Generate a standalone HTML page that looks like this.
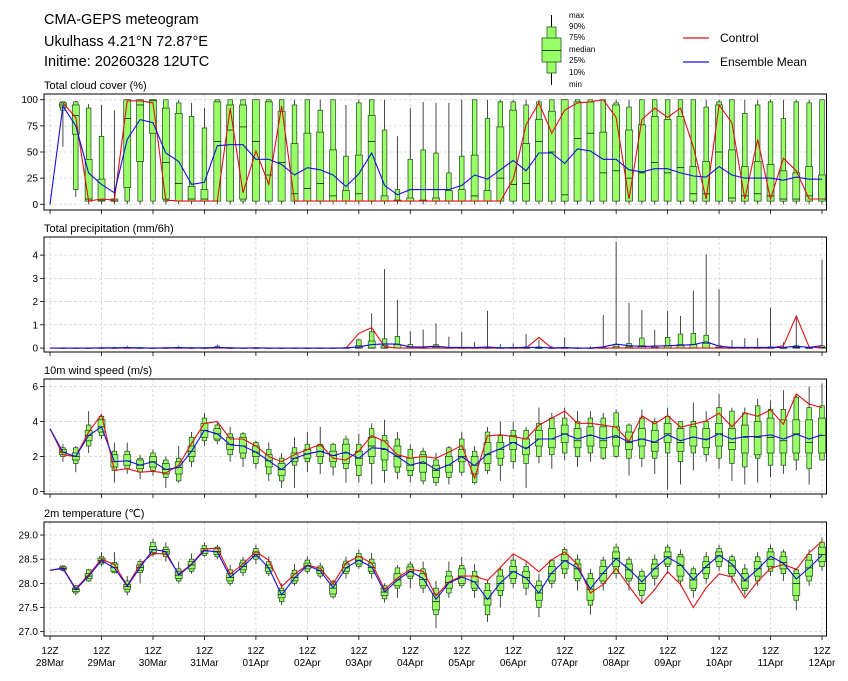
<!DOCTYPE html>
<html><head><meta charset="utf-8"><style>
html,body{margin:0;padding:0;background:#fff;}
svg{display:block;font-family:"Liberation Sans","DejaVu Sans",sans-serif;}
</style></head><body>
<svg id="chart" width="848" height="681" viewBox="0 0 848 681" xmlns="http://www.w3.org/2000/svg">
<g>
<text x="44" y="24" font-size="14.5">CMA-GEPS meteogram</text>
<text x="44" y="46" font-size="14.5">Ukulhass 4.21°N 72.87°E</text>
<text x="44" y="66" font-size="14.5">Initime: 20260328 12UTC</text>
</g>
<g>
<line x1="551.5" y1="15" x2="551.5" y2="85" stroke="#000" stroke-width="1"/>
<rect x="547" y="27" width="9" height="46" fill="#99ff66" stroke="#225522" stroke-width="0.8"/>
<rect x="542" y="38" width="19" height="24" fill="#99ff66" stroke="#225522" stroke-width="0.8"/>
<line x1="542" y1="50.5" x2="561" y2="50.5" stroke="#000" stroke-width="0.8"/>
<g font-size="8" fill="#000">
<text x="569" y="18">max</text><text x="569" y="29">90%</text><text x="569" y="40">75%</text><text x="569" y="52">median</text><text x="569" y="63">25%</text><text x="569" y="75">10%</text><text x="569" y="87">min</text>
</g>
</g>
<g>
<line x1="683" y1="38" x2="709" y2="38" stroke="#dd1111" stroke-width="1.2"/>
<text x="720" y="42" font-size="12">Control</text>
<line x1="683" y1="62" x2="709" y2="62" stroke="#1111dd" stroke-width="1.2"/>
<text x="720" y="66" font-size="12">Ensemble Mean</text>
</g>
<g id="panels"></g>
</svg>
<script>
const days = ["28Mar","29Mar","30Mar","31Mar","01Apr","02Apr","03Apr","04Apr","05Apr","06Apr","07Apr","08Apr","09Apr","10Apr","11Apr","12Apr"];
const cloudControl = [null,97,83,3,5,4,99,99,97,4,3,3,3,3,92,11,51,19,94,3,3,3,3,3,3,3,3,3,3,3,3,3,3,3,3,3,24,76,97,68,90,97,98,100,83,5,81,92,83,92,55,5,95,78,5,62,5,44,32,5,5];
const cloudMean = [0,94,75,30,19,11,62,81,78,49,41,19,21,56,57,57,43,43,38,28,35,33,28,17,29,49,18,9,14,14,14,14,18,28,24,33,42,32,49,49,39,53,51,43,43,33,31,34,34,30,27,26,36,28,25,25,25,23,26,24,24];
const cloudMin = [0,55,7,0,0,0,0,0,0,0,0,0,0,0,0,0,0,0,0,0,0,0,0,0,0,0,0,0,0,0,0,0,0,0,0,0,0,0,0,0,0,0,0,0,0,0,0,0,0,0,0,0,0,0,0,0,0,0,0,0,0];
const cloudP10 = [0,90,14,3,3,3,3,3,3,3,3,3,3,3,3,3,3,3,3,3,3,3,3,3,3,3,3,3,3,3,3,3,3,3,3,3,3,3,3,3,3,3,3,3,3,3,3,3,3,3,3,3,3,3,3,3,3,3,3,3,3];
const cloudQ25 = [0,93,67,3,3,3,16,41,68,5,3,3,3,3,3,5,3,3,3,3,3,3,3,3,3,3,3,3,3,3,3,3,3,3,3,3,3,3,3,3,3,3,3,3,3,3,3,3,3,3,3,3,3,3,3,3,3,3,3,3,3];
const cloudMed = [0,95,85,5,4,3,82,95,99,40,20,5,5,60,71,74,60,28,40,10,15,20,8,3,10,60,3,3,3,3,3,3,3,8,3,25,19,20,60,50,9,63,68,30,32,25,30,40,30,35,10,10,50,6,8,10,8,5,5,8,5];
const cloudQ75 = [0,97,95,43,24,5,100,100,100,92,87,17,14,98,95,95,100,98,89,58,68,69,52,13,47,85,8,4,6,4,6,13,14,47,13,74,90,58,81,89,100,98,98,69,95,71,76,84,81,84,36,41,95,52,36,41,38,32,30,36,28];
const cloudP90 = [0,98,98,92,65,5,100,100,100,100,97,84,73,100,100,100,100,100,100,95,100,90,100,46,97,100,71,14,43,52,49,30,46,100,82,98,98,95,98,100,100,100,100,100,97,93,100,100,100,100,100,93,98,100,87,95,98,82,98,97,100];
const cloudMax = [0,98,99,96,95,90,100,100,100,100,100,97,92,100,100,100,100,100,100,100,100,100,100,95,100,100,100,65,92,98,97,97,100,100,100,100,100,100,100,100,100,100,100,100,100,100,100,100,100,100,100,100,100,100,100,100,100,100,100,100,100];
const precipControl = [0,0,0,0,0,0,0,0,0,0,0,0,0,0,0,0,0,0,0,0,0,0,0,0,0.63,0.88,0.06,0,0,0,0,0,0,0,0,0,0,0,0.46,0,0,0,0,0,0,0,0,0,0,0,0,0,0,0,0,0,0,0.1,1.38,0.05,0];
const precipMean = [0,0,0,0,0.01,0.01,0.02,0.01,0,0.01,0.02,0.01,0.01,0.03,0.01,0,0.01,0,0,0,0,0,0,0.01,0.05,0.15,0.18,0.17,0.05,0.05,0.08,0.03,0.03,0.02,0.04,0.01,0.02,0.03,0.03,0.01,0.02,0,0,0.05,0.17,0.1,0.07,0.08,0.1,0.12,0.15,0.27,0.08,0.03,0.03,0.03,0.03,0.03,0.08,0.03,0.1];
const precipQ75 = [0,0,0,0,0,0,0,0,0,0,0,0,0,0.02,0,0,0,0,0,0,0,0,0,0,0.1,0.3,0.1,0.15,0.05,0,0.05,0,0,0,0,0,0,0,0,0,0,0,0,0,0.05,0.05,0.1,0.03,0.1,0.15,0.15,0.2,0.03,0,0,0,0,0,0.03,0,0.03];
const precipP90 = [0,0,0,0,0,0,0.02,0,0,0,0.02,0,0,0.08,0,0,0,0,0,0,0,0,0,0.02,0.35,0.7,0.4,0.5,0.15,0.05,0.15,0.03,0.03,0.02,0.05,0.02,0.03,0.05,0.05,0,0.03,0,0,0.05,0.15,0.2,0.43,0.1,0.46,0.6,0.63,0.55,0.1,0.03,0.03,0.03,0.05,0.03,0.1,0.03,0.1];
const precipMax = [0,0.02,0.03,0.02,0.06,0.05,0.1,0.05,0.03,0.05,0.1,0.04,0.05,0.15,0.05,0.02,0.05,0.02,0.02,0.02,0.03,0.02,0.02,0.05,0.4,1.5,3.4,2.07,0.73,0.8,1.06,0.49,0.7,0.27,1.6,0.17,0.2,0.6,0.35,0.1,0.46,0.05,0.08,1.42,4.58,1.95,1.64,0.78,1.6,1.38,2.47,4.04,2.53,0.35,0.42,0.42,1.74,0.25,1.3,0.1,3.8];
const windControl = [3.6,2.1,2.0,3.4,4.4,1.2,1.3,1.1,1.15,1.05,1.5,2.75,3.9,4.0,3.0,3.0,2.6,2.0,1.7,2.1,2.4,2.7,1.9,1.8,2.3,3.2,2.86,2.1,1.9,2.0,1.9,2.25,2.63,0.76,3.18,3.24,3.14,3.0,3.8,4.2,4.6,3.9,3.9,3.8,3.68,2.86,4.34,3.87,4.34,3.68,3.85,4.04,4.48,3.7,4.5,4.3,4.67,3.85,5.58,5.0,4.8];
const windMean = [3.6,2.25,2.0,3.2,3.7,1.7,1.75,1.5,1.7,1.25,1.37,2.3,3.5,3.3,2.67,2.6,2.25,1.75,1.25,1.9,2.15,2.3,2.05,2.25,1.9,2.5,2.45,2.0,1.5,1.7,1.24,1.52,2.0,1.47,2.15,2.44,2.82,2.44,3.0,3.0,3.3,3.0,3.24,3.0,3.2,2.82,3.0,2.82,3.24,2.9,3.12,2.95,3.3,3.0,3.14,3.14,3.24,3.0,3.28,3.0,3.24];
const windMin = [3.6,1.7,1.1,2.2,3.0,0.5,1.0,0.7,0.9,0.2,0.5,1.4,2.6,2.7,1.7,1.4,1.3,0.6,0.2,0.2,1.1,1.0,0.9,0.5,0.5,0.4,0.5,0.7,0.5,0.4,0.3,0.4,0.9,0.4,1.0,0.6,1.3,0.2,1.6,1.3,1.8,1.4,1.7,1.8,1.9,0.9,1.4,1.0,0.1,0.4,1.2,1.7,1.3,0.6,0.4,0.5,0.8,1.0,1.2,0.4,1.8];
const windP10 = [3.6,2.0,1.6,2.6,3.2,1.2,1.3,1.1,1.2,0.8,0.6,1.7,2.9,2.9,2.1,1.9,1.6,1.0,0.6,1.5,1.7,1.6,1.4,1.3,0.9,1.6,1.2,1.1,0.9,0.6,0.5,0.8,1.1,0.5,1.2,1.5,1.7,1.6,2.0,2.1,2.2,2.0,2.2,1.9,2.0,1.9,1.9,1.9,2.2,1.7,2.2,2.1,1.9,1.6,1.4,1.9,1.5,1.5,1.8,1.3,1.8];
const windQ25 = [3.6,2.1,1.8,2.9,3.4,1.4,1.5,1.3,1.4,1.0,1.0,2.0,3.1,3.0,2.4,2.2,2.0,1.4,0.9,1.7,1.9,2.0,1.7,1.6,1.5,2.0,1.8,1.4,1.2,1.1,0.8,1.1,1.7,1.0,1.6,1.9,2.4,2.1,2.6,2.5,2.8,2.5,2.6,2.5,2.6,2.4,2.6,2.3,2.8,2.3,2.6,2.5,2.6,2.4,2.2,2.1,2.2,2.2,2.2,2.2,2.2];
const windMed = [3.6,2.25,2.0,3.2,3.7,1.7,1.75,1.5,1.7,1.25,1.37,2.3,3.5,3.3,2.7,2.6,2.25,1.75,1.25,1.9,2.15,2.3,2.05,2.2,1.9,2.6,2.4,2.0,1.5,1.6,1.2,1.5,2.0,1.5,2.1,2.4,2.8,2.5,3.0,3.0,3.3,2.9,3.2,2.9,3.1,2.8,3.0,2.8,3.3,2.8,3.1,3.0,3.3,2.8,3.1,3.1,3.1,2.9,3.3,2.8,3.2];
const windQ75 = [3.6,2.4,2.2,3.5,4.1,2.1,2.1,1.8,2.0,1.6,1.7,2.6,3.9,3.6,3.1,3.1,2.6,2.1,1.6,2.2,2.4,2.6,2.3,2.7,2.3,3.1,2.9,2.6,1.9,2.1,1.5,2.0,2.4,2.0,2.8,2.8,3.2,3.0,3.5,3.6,3.8,3.6,3.7,3.7,3.7,3.4,3.6,3.5,3.9,3.6,3.7,3.6,3.9,3.6,3.8,4.0,4.2,4.1,4.1,4.1,4.2];
const windP90 = [3.6,2.5,2.5,3.8,4.3,2.3,2.3,1.9,2.2,1.8,1.9,3.1,4.2,3.8,3.3,3.3,2.8,2.4,1.9,2.5,2.7,2.7,2.7,3.0,2.7,3.6,3.2,3.0,2.4,2.3,1.8,2.5,3.0,2.3,3.4,3.2,3.5,3.5,3.9,4.2,4.2,4.0,4.2,4.2,4.5,3.8,4.2,4.0,4.3,4.0,4.0,4.0,4.8,4.6,4.5,4.9,4.7,4.7,5.4,4.8,4.9];
const windMax = [3.6,2.7,2.6,4.6,4.4,2.8,2.8,2.1,2.4,2.0,2.6,3.4,4.5,4.0,3.7,3.4,2.9,2.8,2.2,3.1,3.4,3.7,2.8,3.2,3.3,3.9,4.1,3.4,2.7,2.5,2.2,2.6,3.4,2.6,3.7,4.0,4.0,3.7,4.8,4.5,4.8,4.6,4.6,4.5,4.7,3.9,4.7,4.2,4.8,4.0,5.1,4.6,5.6,4.8,4.8,5.3,5.2,5.8,5.6,6.0,6.2];
const tempControl = [28.27,28.32,27.89,28.18,28.5,28.39,27.95,28.39,28.62,28.61,28.19,28.4,28.71,28.73,28.19,28.4,28.66,28.48,27.93,28.19,28.38,28.31,27.99,28.42,28.56,28.42,27.87,28.11,28.29,28.25,27.74,28.03,28.15,28.15,28.06,28.33,28.61,28.46,28.24,28.49,28.65,28.39,27.8,27.98,28.31,27.94,27.58,27.87,28.24,27.98,27.5,27.91,28.2,28.13,27.7,28.04,28.31,28.39,28.29,28.63,28.87];
const tempMean = [28.27,28.31,27.87,28.15,28.47,28.32,27.94,28.33,28.7,28.66,28.17,28.39,28.68,28.65,28.13,28.35,28.6,28.32,27.76,28.11,28.37,28.26,27.91,28.32,28.48,28.34,27.82,28.07,28.25,28.1,27.67,28.01,28.13,28.03,27.67,28.01,28.25,28.11,27.8,28.22,28.47,28.32,27.89,28.22,28.51,28.29,28.03,28.31,28.54,28.39,28.08,28.35,28.58,28.4,28.06,28.29,28.56,28.42,28.09,28.32,28.58];
const tempMin = [28.27,28.24,27.75,28.03,28.35,28.2,27.75,28.0,28.55,28.45,28.0,28.2,28.55,28.5,27.95,28.15,28.4,28.15,27.55,27.95,28.2,28.1,27.68,28.1,28.3,28.1,27.6,27.7,27.9,27.8,27.07,27.7,27.9,27.7,27.2,27.5,27.9,27.75,27.3,27.9,28.1,27.85,27.35,27.85,28.1,27.85,27.6,27.95,28.2,27.95,27.7,28.0,28.25,28.0,27.75,27.95,28.15,28.05,27.45,27.95,28.25];
const tempP10 = [28.27,28.27,27.8,28.05,28.4,28.22,27.82,28.22,28.6,28.55,28.05,28.25,28.58,28.55,28.0,28.22,28.5,28.2,27.62,28.0,28.25,28.15,27.72,28.2,28.35,28.2,27.68,27.9,28.1,27.9,27.35,27.8,27.95,27.85,27.35,27.75,28.0,27.9,27.5,28.0,28.2,28.05,27.55,28.0,28.2,28.05,27.75,28.1,28.35,28.05,27.85,28.1,28.35,28.15,27.85,28.05,28.25,28.2,27.65,28.05,28.35];
const tempQ25 = [28.27,28.29,27.83,28.1,28.43,28.25,27.88,28.27,28.64,28.6,28.1,28.3,28.62,28.6,28.05,28.28,28.55,28.25,27.7,28.05,28.3,28.2,27.78,28.25,28.4,28.25,27.75,27.95,28.15,27.95,27.45,27.9,28.0,27.9,27.55,27.85,28.1,28.0,27.65,28.05,28.3,28.1,27.65,28.05,28.35,28.1,27.85,28.15,28.4,28.15,27.9,28.2,28.45,28.2,27.9,28.15,28.35,28.3,27.75,28.15,28.45];
const tempMed = [28.27,28.31,27.87,28.15,28.47,28.33,27.93,28.33,28.7,28.65,28.17,28.38,28.67,28.66,28.12,28.35,28.6,28.32,27.77,28.12,28.36,28.26,27.9,28.32,28.48,28.33,27.82,28.07,28.25,28.08,27.62,28.02,28.15,28.03,27.68,28.0,28.24,28.12,27.8,28.2,28.47,28.3,27.88,28.2,28.52,28.28,28.0,28.3,28.55,28.37,28.07,28.33,28.57,28.36,28.05,28.3,28.5,28.43,28.0,28.32,28.6];
const tempQ75 = [28.27,28.34,27.9,28.2,28.52,28.4,27.98,28.38,28.76,28.7,28.25,28.45,28.72,28.72,28.2,28.42,28.65,28.38,27.85,28.2,28.42,28.32,27.98,28.4,28.55,28.42,27.9,28.2,28.34,28.2,27.78,28.15,28.3,28.15,27.85,28.15,28.35,28.25,27.95,28.35,28.6,28.4,28.1,28.35,28.65,28.4,28.15,28.4,28.65,28.55,28.2,28.45,28.65,28.48,28.2,28.45,28.65,28.55,28.2,28.48,28.75];
const tempP90 = [28.27,28.36,27.95,28.28,28.55,28.43,28.05,28.45,28.85,28.75,28.3,28.5,28.78,28.75,28.28,28.48,28.72,28.45,27.9,28.27,28.48,28.36,28.04,28.46,28.62,28.5,27.95,28.32,28.4,28.3,27.9,28.25,28.37,28.25,28.0,28.28,28.48,28.35,28.05,28.48,28.7,28.5,28.2,28.48,28.75,28.5,28.25,28.5,28.75,28.6,28.3,28.55,28.72,28.55,28.3,28.55,28.72,28.65,28.28,28.6,28.85];
const tempMax = [28.27,28.37,27.97,28.3,28.65,28.65,28.15,28.5,28.92,28.85,28.45,28.62,28.85,28.8,28.38,28.55,28.8,28.55,28.0,28.4,28.56,28.43,28.08,28.55,28.7,28.63,28.0,28.38,28.46,28.45,28.05,28.45,28.55,28.4,28.08,28.35,28.6,28.45,28.2,28.5,28.75,28.6,28.3,28.55,28.82,28.55,28.3,28.6,28.8,28.7,28.35,28.65,28.8,28.6,28.4,28.65,28.8,28.7,28.3,28.7,28.95];

const NS='http://www.w3.org/2000/svg';
const X0=44, X1=826.5, I0=-0.47, I1=60.35;
function xs(i){return X0+(i-I0)/(I1-I0)*(X1-X0);}
function mk(tag,attrs,parent){const e=document.createElementNS(NS,tag);for(const k in attrs)e.setAttribute(k,attrs[k]);parent.appendChild(e);return e;}
const root=document.getElementById('panels');

const panels=[
 {key:'cloud',title:'Total cloud cover (%)',top:94,bot:210,ymin:-5.5,ymax:105.5,ticks:[0,25,50,75,100],fmt:v=>String(v),
  ctrl:cloudControl,mean:cloudMean,mn:cloudMin,p10:cloudP10,q25:cloudQ25,med:cloudMed,q75:cloudQ75,p90:cloudP90,mx:cloudMax},
 {key:'precip',title:'Total precipitation (mm/6h)',top:237,bot:352,ymin:-0.17,ymax:4.78,ticks:[0,1,2,3,4],fmt:v=>String(v),
  ctrl:precipControl,mean:precipMean,mn:null,p10:null,q25:null,med:null,q75:precipQ75,p90:precipP90,mx:precipMax},
 {key:'wind',title:'10m wind speed (m/s)',top:379,bot:494,ymin:-0.15,ymax:6.44,ticks:[0,2,4,6],fmt:v=>String(v),
  ctrl:windControl,mean:windMean,mn:windMin,p10:windP10,q25:windQ25,med:windMed,q75:windQ75,p90:windP90,mx:windMax},
 {key:'temp',title:'2m temperature (℃)',top:522,bot:636,ymin:26.91,ymax:29.27,ticks:[27.0,27.5,28.0,28.5,29.0],fmt:v=>v.toFixed(1),
  ctrl:tempControl,mean:tempMean,mn:tempMin,p10:tempP10,q25:tempQ25,med:tempMed,q75:tempQ75,p90:tempP90,mx:tempMax}
];

panels.forEach((p,pi)=>{
 const g=mk('g',{},root);
 
 
 const ys=v=>p.bot-(v-p.ymin)/(p.ymax-p.ymin)*(p.bot-p.top);
 const t=mk('text',{x:X0,y:p.top-5,'font-size':11},g);
 t.textContent=p.title;
 
 
 const grid=mk('g',{stroke:'#d4d4d4','stroke-width':0.8,'stroke-dasharray':'3,2'},g);
 
 
 p.ticks.forEach(v=>mk('line',{x1:X0,x2:X1,y1:ys(v),y2:ys(v)},grid));
 for(let d=0;d<days.length;d++){const x=xs(d*4);mk('line',{x1:x,x2:x,y1:p.top,y2:p.bot},grid);}
 const bg=mk('g',{},g);
 
 
 const n=p.mx.length;
 for(let i=0;i<n;i++){
  const x=xs(i);
  const mn=p.mn?p.mn[i]:0, p10=p.p10?p.p10[i]:0, q25=p.q25?p.q25[i]:0, med=p.med?p.med[i]:0;
  const q75=p.q75[i], p90=p.p90[i], mx=p.mx[i];
  if(mx===mn)continue;
  const b=mk('g',{},bg);
  
  
  mk('line',{x1:x,x2:x,y1:ys(mx),y2:ys(mn),stroke:'#333','stroke-width':0.9},b);
  mk('rect',{x:x-2.3,y:ys(p90),width:4.6,height:Math.max(0.3,ys(p10)-ys(p90)),fill:'#99ff66',stroke:'#1f3f1f','stroke-width':0.7},b);
  mk('rect',{x:x-3.5,y:ys(q75),width:7,height:Math.max(0.3,ys(q25)-ys(q75)),fill:'#99ff66',stroke:'#1f3f1f','stroke-width':0.7},b);
  mk('line',{x1:x-3.5,x2:x+3.5,y1:ys(med),y2:ys(med),stroke:'#000','stroke-width':0.7},b);
 }
 const path=(arr)=>{let d='';arr.forEach((v,i)=>{if(v===null)return;d+=(d?'L':'M')+xs(i).toFixed(1)+','+ys(v).toFixed(1);});return d;};
 const cl=mk('path',{d:path(p.ctrl),fill:'none',stroke:'#dd1111','stroke-width':1.1},g);
 
 
 const ml=mk('path',{d:path(p.mean),fill:'none',stroke:'#1111dd','stroke-width':1.1},g);
 
 
 const fr=mk('rect',{x:X0,y:p.top,width:X1-X0,height:p.bot-p.top,fill:'none',stroke:'#000','stroke-width':1},g);
 
 
 const ya=mk('g',{'font-size':10,'text-anchor':'end'},g);
 
 
 p.ticks.forEach(v=>{const y=ys(v);mk('line',{x1:X0-4,x2:X0,y1:y,y2:y,stroke:'#000','stroke-width':0.8},ya);const tt=mk('text',{x:X0-6,y:y+3.5},ya);tt.textContent=p.fmt(v);});
 for(let d=0;d<days.length;d++){const x=xs(d*4);mk('line',{x1:x,x2:x,y1:p.bot,y2:p.bot+4,stroke:'#000','stroke-width':0.8},g);}
 if(pi===3){
  const xa=mk('g',{'font-size':10,'text-anchor':'middle'},g);
  
  
  days.forEach((dl,d)=>{const x=xs(d*4);const a=mk('text',{x:x,y:654},xa);a.textContent='12Z';const b2=mk('text',{x:x,y:666},xa);b2.textContent=dl;});
 }
});
</script>
</body></html>
